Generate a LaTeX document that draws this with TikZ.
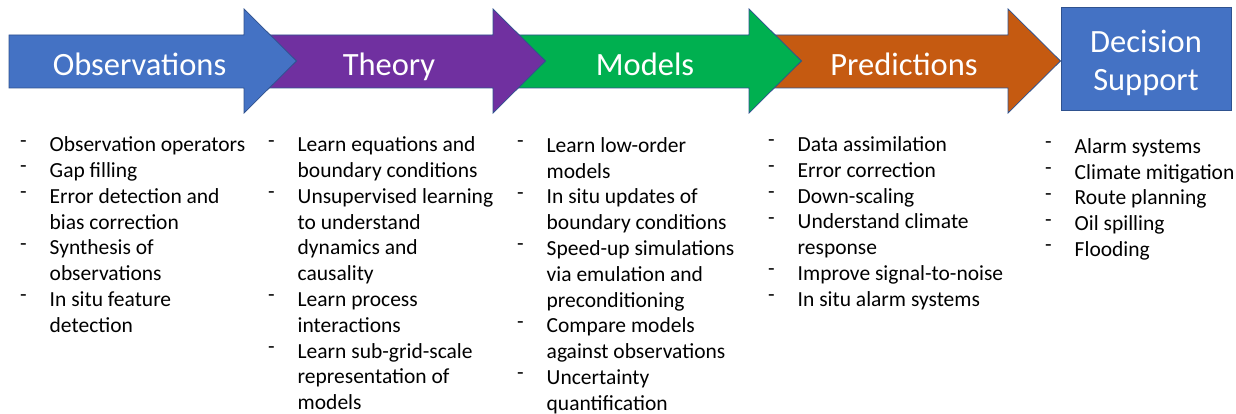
\documentclass[tikz,border=0pt]{standalone}
\usepackage{fontspec}
\setmainfont{Carlito}
\definecolor{obsblue}{HTML}{4472C4}
\definecolor{theorypurple}{HTML}{7030A0}
\definecolor{modgreen}{HTML}{00B050}
\definecolor{predorange}{HTML}{C55A11}
\definecolor{edgeblue}{HTML}{2F528F}
\tikzstyle{stage}=[draw=edgeblue,line width=0.75pt]
\tikzstyle{stagetext}=[text=white,inner sep=0pt,anchor=base,
font=\fontsize{32.5}{38}\selectfont]
\tikzstyle{itemlist}=[anchor=base west,inner sep=0pt,
font=\fontsize{21.5}{25.8}\selectfont]
\newcommand{\dashitem}{\par\noindent\hangindent=29.5pt\hangafter=1%
\makebox[29.5pt][l]{\raisebox{4.5pt}{-}}}

\begin{document}
\begin{tikzpicture}[x=1pt,y=-1pt]
            \useasboundingbox (0,0) rectangle (1236,414);

            % ARROWS (right to left, so every head lies over the next body)
            \foreach \s/\b/\c in {749/1008/predorange,493/749/modgreen,
                                  244/493/theorypurple,9/244/obsblue}
                \filldraw[stage,fill=\c] (\s,35) -- (\b,35) -- (\b,9)
                    -- ++(52.5,52) -- (\b,113) -- (\b,88) -- (\s,88) -- cycle;

            \node[stage,fill=obsblue,minimum width=170,minimum height=103,
                  inner sep=0pt] (support) at (1146,58.5) {};

            \node[stagetext] (obs) at (139.5,75.5) {Observations};
            \node[stagetext] (theory) at (389,75.5) {Theory};
            \node[stagetext] (models) at (645,75.5) {Models};
            \node[stagetext] (pred) at (904,75.5) {Predictions};
            \node[stagetext] (supporttext) at (1146,53)
                {\parbox[t]{160pt}{\centering Decision\\Support}};

            % LISTS

            \node[itemlist] (obslist) at (20,151.7) {\parbox[t]{240pt}{%
                \dashitem Observation operators
                \dashitem Gap filling
                \dashitem Error detection and\\bias correction
                \dashitem Synthesis of\\observations
                \dashitem In situ feature\\detection}};
            \node[itemlist] (theorylist) at (268,151.7) {\parbox[t]{240pt}{%
                \dashitem Learn equations and\\boundary conditions
                \dashitem Unsupervised learning\\to understand\\dynamics and\\causality
                \dashitem Learn process\\interactions
                \dashitem Learn sub-grid-scale\\representation of\\models}};
            \node[itemlist] (modlist) at (517,152.3) {\parbox[t]{240pt}{%
                \dashitem Learn low-order\\models
                \dashitem In situ updates of\\boundary conditions
                \dashitem Speed-up simulations\\via emulation and\\preconditioning
                \dashitem Compare models\\against observations
                \dashitem Uncertainty\\quantification}};
            \node[itemlist] (predlist) at (768,151.5) {\parbox[t]{240pt}{%
                \dashitem Data assimilation
                \dashitem Error correction
                \dashitem Down-scaling
                \dashitem Understand climate\\response
                \dashitem Improve signal-to-noise
                \dashitem In situ alarm systems}};
            \node[itemlist] (supportlist) at (1045,153.3) {\parbox[t]{240pt}{%
                \dashitem Alarm systems
                \dashitem Climate mitigation
                \dashitem Route planning
                \dashitem Oil spilling
                \dashitem Flooding}};

\end{tikzpicture}
\end{document}
